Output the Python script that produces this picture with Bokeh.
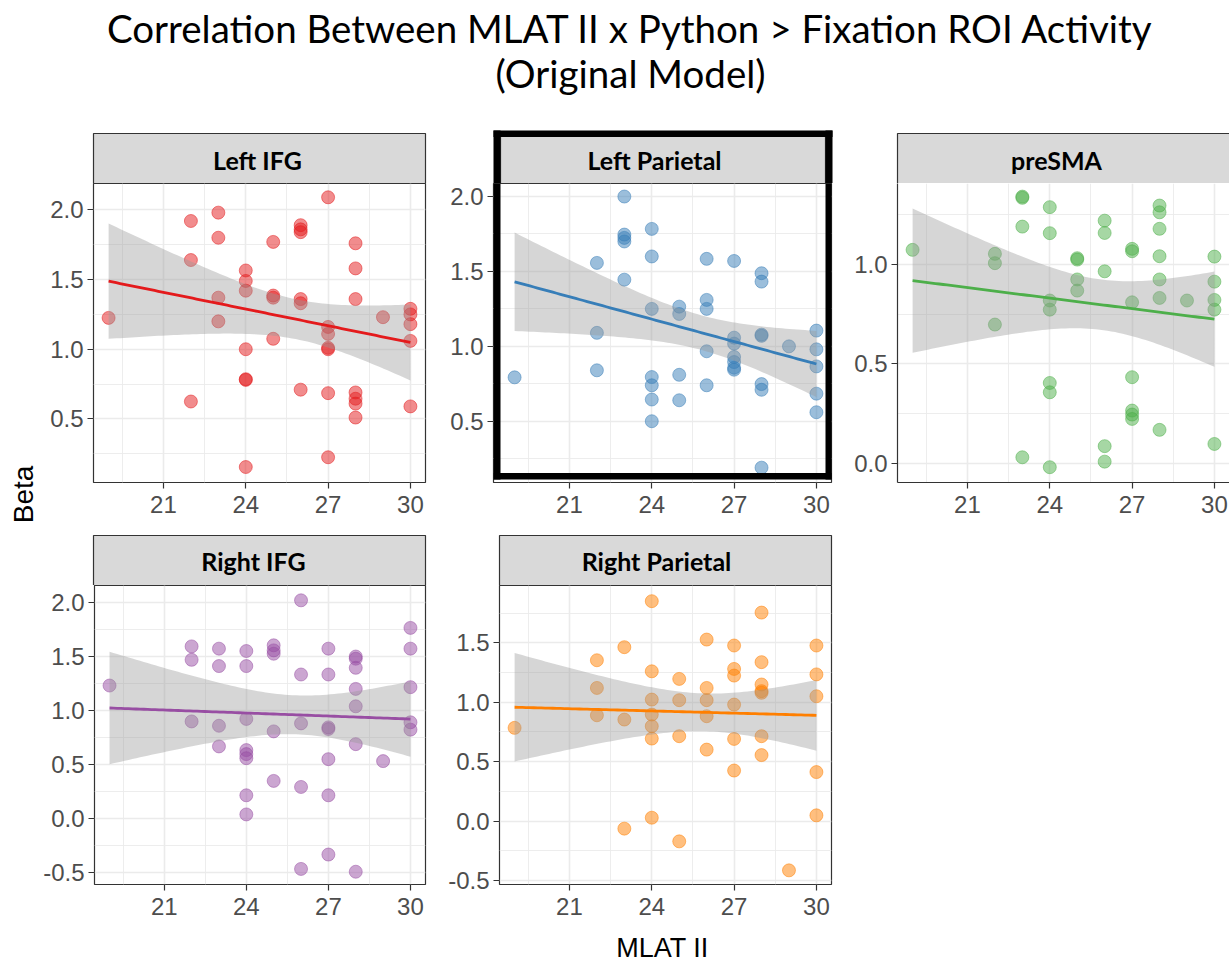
import numpy as np
from bokeh.plotting import figure
from bokeh.layouts import row, column
from bokeh.models import Range1d, FixedTicker, PrintfTickFormatter, Spacer
from bokeh.core.properties import value
from bokeh.embed import file_html
from bokeh.resources import INLINE

# ---------------- data ----------------
TITLE_1 = "Correlation Between MLAT II x Python > Fixation ROI Activity"
TITLE_2 = "(Original Model)"
X_LABEL = "MLAT II"
Y_LABEL = "Beta"
panel_names = ["Left IFG", "Left Parietal", "preSMA", "Right IFG", "Right Parietal"]
panel_colors = ["#E41A1C", "#377EB8", "#4DAF4A", "#984EA3", "#FF7F00"]
x_ticks = [21, 24, 27, 30]

left_ifg_x = [19, 22, 22, 22, 23, 23, 23, 23, 24, 24, 24, 24, 24, 24, 24, 25, 25, 25, 25,
              26, 26, 26, 26, 26, 26, 27, 27, 27, 27, 27, 27, 27, 28, 28, 28, 28, 28, 28, 28,
              29, 30, 30, 30, 30, 30]
left_ifg_y = [1.225, 1.92, 1.64, 0.625, 1.98, 1.80, 1.37, 1.20, 1.565, 1.49, 1.42, 1.00, 0.785, 0.78, 0.155,
              1.77, 1.385, 1.37, 1.075, 1.89, 1.86, 1.84, 1.36, 1.33, 0.71,
              2.09, 1.16, 1.11, 1.01, 1.00, 0.685, 0.225, 1.76, 1.58, 1.36, 0.69, 0.645, 0.61, 0.51,
              1.23, 1.29, 1.25, 1.18, 1.06, 0.59]

left_par_x = [19, 22, 22, 22, 23, 23, 23, 23, 23, 24, 24, 24, 24, 24, 24, 24, 25, 25, 25, 25,
              26, 26, 26, 26, 26, 27, 27, 27, 27, 27, 27, 27, 28, 28, 28, 28, 28, 28, 28,
              29, 30, 30, 30, 30, 30]
left_par_y = [0.793, 1.557, 1.09, 0.84, 2.0, 1.746, 1.724, 1.70, 1.445, 1.784, 1.60, 1.25, 0.795, 0.74, 0.645, 0.50,
              1.265, 1.216, 0.81, 0.64, 1.584, 1.31, 1.25, 0.967, 0.74,
              1.57, 1.058, 1.018, 0.929, 0.895, 0.857, 0.844, 1.488, 1.432, 1.078, 1.07, 0.748, 0.71, 0.19,
              1.0, 1.105, 0.98, 0.866, 0.684, 0.56]

presma_x = [19, 22, 22, 22, 23, 23, 23, 23, 24, 24, 24, 24, 24, 24, 24, 25, 25, 25, 25,
            26, 26, 26, 26, 26, 27, 27, 27, 27, 27, 27, 27, 28, 28, 28, 28, 28, 28, 28,
            29, 30, 30, 30, 30, 30]
presma_y = [1.074, 1.054, 1.007, 0.698, 1.342, 1.336, 1.191, 0.03, 1.289, 1.158, 0.819, 0.773, 0.404, 0.357, -0.02,
            1.032, 1.025, 0.925, 0.869, 1.221, 1.159, 0.966, 0.086, 0.008,
            1.079, 1.067, 0.81, 0.433, 0.265, 0.245, 0.223, 1.297, 1.263, 1.18, 1.042, 0.925, 0.832, 0.168,
            0.819, 1.04, 0.914, 0.822, 0.773, 0.097]

right_ifg_x = [19, 22, 22, 22, 23, 23, 23, 23, 24, 24, 24, 24, 24, 24, 24, 24, 25, 25, 25, 25, 25,
               26, 26, 26, 26, 26, 27, 27, 27, 27, 27, 27, 27, 28, 28, 28, 28, 28, 28, 28,
               29, 30, 30, 30, 30, 30]
right_ifg_y = [1.232, 1.594, 1.47, 0.90, 1.573, 1.412, 0.86, 0.669, 1.551, 1.412, 0.923, 0.635, 0.598, 0.56, 0.217, 0.04,
               1.604, 1.557, 1.526, 0.808, 0.35, 2.02, 1.334, 0.882, 0.294, -0.464,
               1.573, 1.334, 0.845, 0.83, 0.551, 0.217, -0.331, 1.50, 1.48, 1.396, 1.201, 1.04, 0.69, -0.49,
               0.533, 1.765, 1.573, 1.217, 0.892, 0.824]

right_par_x = [19, 22, 22, 22, 23, 23, 23, 24, 24, 24, 24, 24, 24, 24, 25, 25, 25, 25,
               26, 26, 26, 26, 26, 27, 27, 27, 27, 27, 27, 28, 28, 28, 28, 28, 28, 28,
               29, 30, 30, 30, 30, 30]
right_par_y = [0.784, 1.353, 1.12, 0.89, 1.463, 0.854, -0.064, 1.85, 1.26, 1.022, 0.896, 0.798, 0.694, 0.028,
               1.196, 1.017, 0.714, -0.171, 1.527, 1.12, 1.017, 0.882, 0.601,
               1.477, 1.28, 1.224, 0.98, 0.691, 0.425, 1.754, 1.337, 1.149, 1.093, 1.079, 0.714, 0.555,
               -0.415, 1.477, 1.234, 1.05, 0.412, 0.048]

panel_x = [left_ifg_x, left_par_x, presma_x, right_ifg_x, right_par_x]
panel_y = [left_ifg_y, left_par_y, presma_y, right_ifg_y, right_par_y]

# per-panel y axis ranges, ticks
y_ranges = [(0.044, 2.189), (0.091, 2.087), (-0.097, 1.408), (-0.608, 2.157), (-0.534, 1.982)]
y_major = [[0.5, 1.0, 1.5, 2.0], [0.5, 1.0, 1.5, 2.0], [0.0, 0.5, 1.0],
           [-0.5, 0.0, 0.5, 1.0, 1.5, 2.0], [-0.5, 0.0, 0.5, 1.0, 1.5]]

# ---------------- style ----------------
X0, X1 = 18.45, 30.55
FRAME_W = 332
SX = FRAME_W / (X1 - X0)
GRID = "#EBEBEB"
DARK = "#333333"
TICK_FONT = "Liberation Sans"
TICK_SIZE = "24px"
STRIP_FILL = "#D9D9D9"
STRIP_FONT = "Lato"
STRIP_SIZE = "25px"
GUTTER = 40


def fit_band(x, y, n=80):
    x = np.asarray(x, float)
    y = np.asarray(y, float)
    nobs = len(x)
    b, a = np.polyfit(x, y, 1)
    xs = np.linspace(x.min(), x.max(), n)
    yhat = a + b * xs
    resid = y - (a + b * x)
    s = np.sqrt(np.sum(resid ** 2) / (nobs - 2))
    sxx = np.sum((x - x.mean()) ** 2)
    se = s * np.sqrt(1.0 / nobs + (xs - x.mean()) ** 2 / sxx)
    df = nobs - 2
    z = 1.959964
    t = z + (z ** 3 + z) / (4 * df) + (5 * z ** 5 + 16 * z ** 3 + 3 * z) / (96 * df ** 2)
    return xs, yhat, yhat - t * se, yhat + t * se


def make_panel(i, width, height, mb_left, mb_right, mb_bottom, x_start, outline=True):
    lo, hi = y_ranges[i]
    p = figure(width=width, height=height, x_range=Range1d(x_start, X1), y_range=Range1d(lo, hi),
               output_backend="svg", toolbar_location=None,
               min_border_left=mb_left, min_border_right=mb_right, min_border_top=0,
               min_border_bottom=mb_bottom)
    p.background_fill_color = "white"
    p.border_fill_color = "white"
    p.outline_line_color = DARK if outline else None
    p.outline_line_width = 1.2
    ymin_ticks = [v + 0.25 for v in y_major[i]] + [y_major[i][0] - 0.25]
    p.xaxis.ticker = FixedTicker(ticks=x_ticks, minor_ticks=[t - 1.5 for t in x_ticks])
    p.yaxis.ticker = FixedTicker(ticks=y_major[i], minor_ticks=ymin_ticks)
    p.yaxis.formatter = PrintfTickFormatter(format="%.1f")
    for ax in (p.xaxis[0], p.yaxis[0]):
        ax.axis_line_color = DARK if not outline else None
        ax.axis_line_width = 1.2
        ax.major_tick_line_color = DARK
        ax.major_tick_line_width = 1.2
        ax.major_tick_out = 6
        ax.major_tick_in = 0
        ax.minor_tick_out = 0
        ax.minor_tick_in = 0
        ax.major_label_text_font = TICK_FONT
        ax.major_label_text_font_size = TICK_SIZE
        ax.major_label_text_color = "#4D4D4D"
    p.xaxis.major_label_standoff = 7
    p.yaxis.major_label_standoff = 4
    for g in (p.xgrid[0], p.ygrid[0]):
        g.grid_line_color = GRID
        g.grid_line_width = 1.6
        g.minor_grid_line_color = GRID
        g.minor_grid_line_width = 0.9

    color = panel_colors[i]
    p.scatter(panel_x[i], panel_y[i], size=13, fill_color=color, fill_alpha=0.5,
              line_color=color, line_alpha=0.5, line_width=1)
    xs, yhat, lo_b, hi_b = fit_band(panel_x[i], panel_y[i])
    p.varea(x=xs, y1=lo_b, y2=hi_b, fill_color="#999999", fill_alpha=0.4)
    p.line(xs, yhat, line_color=color, line_width=2.8)
    return p


def pixel_fig(width, height, x0, x1, ytop, ybot):
    f = figure(width=width, height=height, x_range=Range1d(x0, x1), y_range=Range1d(ybot, ytop),
               output_backend="svg", toolbar_location=None, x_axis_type=None, y_axis_type=None,
               min_border_left=0, min_border_right=0, min_border_top=0, min_border_bottom=0)
    f.grid.visible = False
    f.outline_line_color = None
    f.background_fill_color = "white"
    f.border_fill_color = "white"
    return f


# ---------- band A: title + top strips ----------
head = pixel_fig(1229, 183, 0, 1229, 0, 183)
head.text(x=[630, 630], y=[27, 72], text=[TITLE_1, TITLE_2], text_font=value("Lato"),
          text_font_size="38.5px", text_align="center", text_baseline="alphabetic",
          text_color="black")
head.quad(left=[93, 500, 897], right=[425, 825, 1231], top=[133, 136, 133], bottom=[183, 183, 183],
          fill_color=STRIP_FILL, line_color=DARK, line_width=1.2)
head.text(x=[257, 654, 1056], y=[159, 159, 159], text=panel_names[:3], text_font=value(STRIP_FONT),
          text_font_size=STRIP_SIZE, text_font_style="bold", text_align="center",
          text_baseline="middle", text_color="black")
# highlight box (upper part)
head.quad(left=[493, 493, 825], right=[832, 500, 832], top=[130, 130, 130], bottom=[136.5, 183, 183],
          fill_color="black", line_color=None)

# ---------- left gutter with the y title ----------
gutter = pixel_fig(GUTTER, 781, 0, GUTTER, 183, 964)
gutter.text(x=[23], y=[494], text=[Y_LABEL], text_font=value("Liberation Sans"),
            text_font_size="28px", text_align="center", text_baseline="middle",
            angle=np.pi / 2, text_color="black")

# ---------- band B: top panels ----------
p1 = make_panel(0, 400, 347, 53, 15, 48, X0)
p2_x0 = X0 - 6 / SX
p2 = make_panel(1, 400, 347, 53, 9, 48, p2_x0)
p3 = make_panel(2, 389, 347, 57, 0, 48, X0, outline=False)

# highlight box (lower part) in panel 2, pixel positions converted through its scales
lo2, hi2 = y_ranges[1]
SY2 = 299 / (hi2 - lo2)


def px2(px):
    return p2_x0 + (px - 493) / SX


def py2(py):
    return hi2 - (py - 183) / SY2


p2.quad(left=[px2(493), px2(825), px2(493)], right=[px2(500), px2(832), px2(832)],
        top=[py2(183), py2(183), py2(472.5)], bottom=[py2(479), py2(479), py2(479)],
        fill_color="black", line_color=None)

# ---------- band C: bottom strips ----------
mid = pixel_fig(1229 - GUTTER, 55, GUTTER, 1229, 530, 585)
mid.quad(left=[93, 499], right=[425, 831], top=[535, 535], bottom=[585, 585],
         fill_color=STRIP_FILL, line_color=DARK, line_width=1.2)
mid.text(x=[253, 656], y=[560, 560], text=panel_names[3:], text_font=value(STRIP_FONT),
         text_font_size=STRIP_SIZE, text_font_style="bold", text_align="center",
         text_baseline="middle", text_color="black")

# ---------- band D: bottom panels ----------
p4 = make_panel(3, 400, 341, 53, 15, 42, X0)
p5 = make_panel(4, 400, 341, 59, 9, 42, X0)

# ---------- band E: x label ----------
foot = pixel_fig(1229 - GUTTER, 38, GUTTER, 1229, 926, 964)
foot.text(x=[662], y=[947], text=[X_LABEL], text_font=value("Liberation Sans"),
          text_font_size="27px", text_align="center", text_baseline="middle", text_color="black")

right_block = column(
    row(p1, p2, p3, spacing=0),
    mid,
    row(p4, p5, Spacer(width=389, height=341), spacing=0),
    foot,
    spacing=0,
)

layout = column(head, row(gutter, right_block, spacing=0), spacing=0)

open("out.html", "w").write(file_html(layout, INLINE))
